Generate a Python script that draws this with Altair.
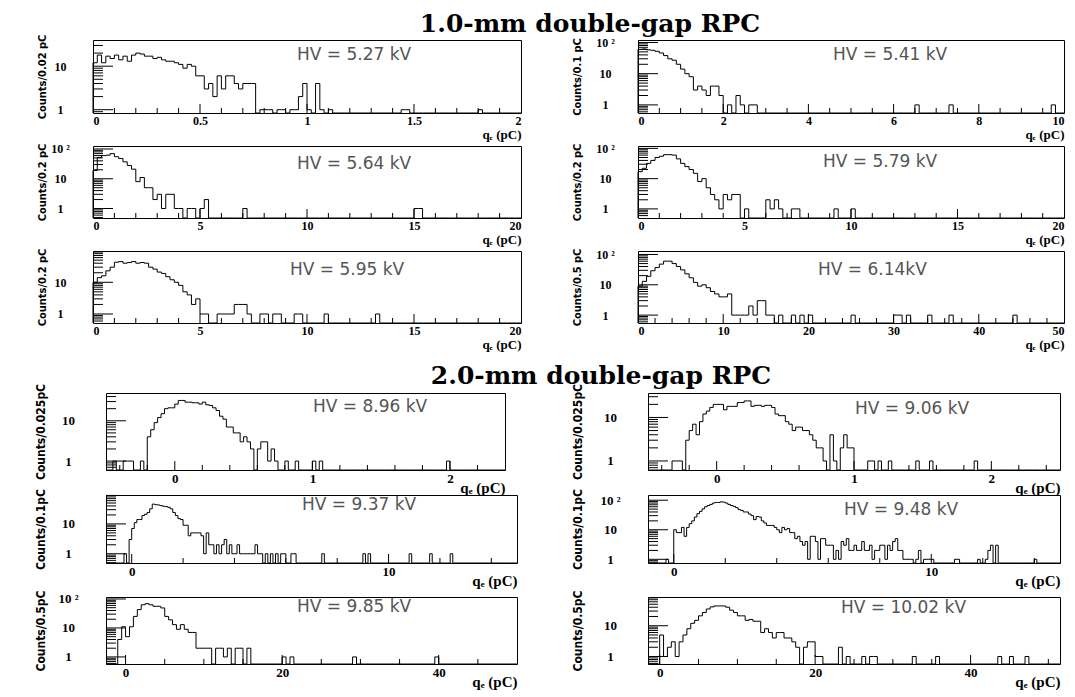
import math
import altair as alt
import pandas as pd

# ---------------------------------------------------------------- data
HV_LABELS = ["HV = 5.27 kV", "HV = 5.41 kV", "HV = 5.64 kV", "HV = 5.79 kV",
             "HV = 5.95 kV", "HV = 6.14kV", "HV = 8.96 kV", "HV = 9.06 kV",
             "HV = 9.37 kV", "HV = 9.48 kV", "HV = 9.85 kV", "HV = 10.02 kV"]
Y_TITLES = ["Counts/0.02 pC", "Counts/0.1 pC", "Counts/0.2 pC", "Counts/0.2 pC",
            "Counts/0.2 pC", "Counts/0.5 pC", "Counts/0.025pC", "Counts/0.025pC",
            "Counts/0.1pC", "Counts/0.1pC", "Counts/0.5pC", "Counts/0.5pC"]
GROUP_TITLES = ["1.0-mm double-gap RPC", "2.0-mm double-gap RPC"]
X_TITLE = "q\u2091 (pC)"

X_LO = [0, 0, 0, 0, 0, 0, -0.5, -0.5, -1, -1, -2.5, -1.5]
X_HI = [2, 10, 20, 20, 20, 50, 2.4, 2.5, 15, 15, 50, 51.5]
BIN_W = [0.02, 0.1, 0.2, 0.2, 0.2, 0.5, 0.025, 0.025, 0.1, 0.1, 0.5, 0.5]
X_LABELS = [[0, 0.5, 1, 1.5, 2], [0, 2, 4, 6, 8, 10], [0, 5, 10, 15, 20],
            [0, 5, 10, 15, 20], [0, 5, 10, 15, 20], [0, 10, 20, 30, 40, 50],
            [0, 1, 2], [0, 1, 2], [0, 10], [0, 10], [0, 20, 40], [0, 20, 40]]
X_MINOR = [0.1, 0.5, 1, 1, 1, 2, 0.2, 0.2, 2, 2, 5, 5]
X_MAJOR = [0.5, 2, 5, 5, 5, 10, 1, 1, 10, 10, 20, 20]
Y_DOMAIN = [[0.84, 40], [0.55, 120], [0.48, 126], [0.5, 120], [0.52, 97], [0.55, 130],
            [0.6, 49], [0.62, 36.5], [0.49, 93], [0.75, 150], [0.57, 117], [0.57, 86]]

# bin contents (leading bins as lists, isolated far bins as {bin index: count})
P1_BODY = [12, 18, 12, 17, 15, 18, 14, 17, 13, 18,
           20, 19, 17, 17, 15, 16, 14, 13, 13, 12,
           11, 9, 11, 10, 6, 6, 3, 4, 2, 6,
           3, 6, 6, 4, 3, 4, 4, 4, 0, 1,
           1, 1, 0, 1, 1, 0, 1, 1, 2, 4,
           1, 0, 4, 1, 0, 1]
P1_SPARSE = {72: 1, 73: 1, 90: 1}

P2_BODY = [60, 62, 58, 56, 52, 46, 38, 30, 27, 20,
           14, 10, 8, 3, 4, 3, 2, 4, 4, 2,
           0, 1, 0, 2, 1, 0, 1, 1]
P2_SPARSE = {65: 1, 73: 1, 97: 1}

P3_BODY = [19, 52, 60, 62, 70, 55, 48, 37, 28, 21,
           8, 11, 5, 5, 2, 3, 1, 3, 3, 1,
           1, 0, 1, 1, 0, 1, 2]
P3_SPARSE = {35: 1, 75: 1, 76: 1}

P4_BODY = [17, 22, 32, 40, 50, 55, 62, 62, 60, 45,
           32, 25, 20, 15, 8, 10, 5, 3, 2, 1,
           3, 2, 3, 3, 0, 1, 0, 0, 0, 0,
           2, 1, 2, 1, 0, 0, 1, 1]
P4_SPARSE = {46: 1, 50: 1}

P5_BODY = [10, 14, 16, 23, 30, 43, 45, 40, 42, 45,
           40, 42, 40, 30, 26, 21, 19, 15, 12, 10,
           8, 5, 4, 2, 3, 1, 1, 0, 0, 1,
           1, 1, 1, 2, 2, 2, 1]
P5_SPARSE = {39: 1, 40: 1, 42: 1, 43: 1, 47: 1, 48: 1, 54: 1, 66: 1}

P6_BODY = [9, 13, 19, 29, 37, 48, 60, 60, 50, 40,
           31, 23, 17, 12, 9, 10, 8, 6, 5, 4,
           4, 5, 1, 1, 1, 1, 2, 1, 3, 3,
           1, 1]
P6_SPARSE = {33: 1, 36: 1, 38: 1, 40: 1, 50: 1, 60: 1, 61: 1, 63: 1, 68: 1, 73: 1, 88: 1}

P7_BODY = [0, 0, 1, 0, 0, 1, 1, 1, 0, 0,
           1, 0, 4, 6, 9, 12, 15, 20, 21, 21,
           26, 32, 32, 29, 29, 28, 28, 26, 29, 25,
           24, 21, 18, 13, 11, 7, 7, 5, 5, 3,
           4, 3, 2, 0, 2, 3, 3, 1, 2, 1]
P7_SPARSE = {52: 1, 55: 1, 60: 1, 62: 1, 99: 1}

P8_BODY = [0, 0, 0, 0, 0, 0, 0, 1, 1, 1,
           0, 3, 5, 7, 4, 8, 12, 14, 17, 20,
           20, 20, 15, 18, 18, 18, 22, 22, 24, 24,
           18, 19, 19, 18, 19, 19, 17, 12, 11, 11,
           8, 7, 5, 6, 6, 5, 5, 4, 3, 2,
           2, 1, 0, 4, 1, 0, 2, 4, 2, 2]
P8_SPARSE = {64: 1, 65: 1, 67: 1, 70: 1, 78: 1, 82: 1, 95: 1}

P9_BODY = [0, 0, 0, 0, 0, 0, 0, 1, 0, 3,
           7, 11, 14, 14, 19, 21, 24, 32, 46, 44,
           43, 41, 39, 38, 36, 32, 24, 19, 15, 14,
           9, 9, 4, 5, 5, 5, 5, 4, 1, 5,
           2, 2, 1, 2, 1, 2, 3, 1, 2, 1,
           1, 2, 1, 1, 1, 1, 1, 1, 2, 1,
           1, 0, 1, 0, 1, 0, 1, 0, 1, 1,
           0, 0, 1, 1]
P9_SPARSE = {84: 1, 100: 1, 102: 1, 118: 1, 126: 1, 134: 1}

P10_BODY = [0, 0, 0, 0, 0, 0, 0, 1, 0, 0,
            10, 8, 8, 12, 6, 12, 16, 20, 27, 35,
            42, 51, 60, 66, 72, 80, 84, 84, 88, 86,
            80, 72, 66, 62, 56, 48, 45, 40, 40, 34,
            30, 22, 28, 27, 20, 17, 14, 14, 14, 12,
            10, 8, 12, 10, 11, 8, 8, 5, 6, 4,
            3, 4, 1, 6, 6, 4, 1, 5, 5, 3,
            3, 3, 1, 2, 1, 4, 3, 5, 2, 2,
            3, 2, 2, 4, 2, 2, 3, 1, 2, 2,
            3, 3, 1, 3, 2, 4, 5, 2, 2, 1,
            1, 1, 1, 0, 1, 2, 0, 1, 1, 1,
            1]
P10_SPARSE = {119: 1, 120: 1, 128: 1, 131: 1, 132: 2, 133: 3, 135: 3, 150: 1}

P11_BODY = [0, 0, 0, 4, 11, 5, 11, 25, 43, 63,
            69, 63, 56, 56, 49, 25, 19, 13, 9, 13,
            9, 7, 7, 2, 2, 2, 2, 0, 2, 2,
            1, 2, 0, 2, 2, 0, 2, 0]
P11_SPARSE = {45: 1, 47: 1, 63: 1, 84: 1}

P12_BODY = [0, 0, 0, 5, 1, 2, 3, 1, 3, 5,
            8, 12, 15, 21, 27, 35, 41, 44, 44, 44,
            40, 32, 27, 21, 21, 15, 16, 14, 14, 6,
            8, 6, 4, 6, 6, 4, 4, 3, 2, 0,
            2, 3, 3, 1, 1]
P12_SPARSE = {49: 2, 51: 1, 55: 1, 57: 1, 58: 1, 68: 1, 74: 1, 90: 1, 93: 1, 97: 1}

BODIES = [P1_BODY, P2_BODY, P3_BODY, P4_BODY, P5_BODY, P6_BODY,
          P7_BODY, P8_BODY, P9_BODY, P10_BODY, P11_BODY, P12_BODY]
SPARSES = [P1_SPARSE, P2_SPARSE, P3_SPARSE, P4_SPARSE, P5_SPARSE, P6_SPARSE,
           P7_SPARSE, P8_SPARSE, P9_SPARSE, P10_SPARSE, P11_SPARSE, P12_SPARSE]

# ---------------------------------------------------------------- style
SERIF = "Liberation Serif, Times New Roman, serif"
NARROW = "Liberation Sans Narrow, DejaVu Sans Condensed, Arial Narrow, sans-serif"
HVFONT = "DejaVu Sans, Verdana, sans-serif"
TITLEFONT = "DejaVu Serif, Liberation Serif, serif"

STYLE_TOP = dict(lab=12, ylp=33, xt=13, xty=21, hvs=17, yts=11, flush=True)
STYLE_BOT = dict(lab=13, ylp=38, xt=15, xty=17, hvs=17, yts=12, flush=False)
YTITLE_X = [-51, -61, -51, -61, -51, -61, -66, -71, -66, -71, -66, -71]
HV_POS = [(204, 15), (195, 15), (204, 18), (185, 16), (197, 19), (180, 19),
          (207, 14), (207, 16), (196, 10), (196, 15), (191, 10), (193, 11)]


def full_counts(body, sparse, n):
    c = list(body) + [0] * (n - len(body))
    for k, v in sparse.items():
        c[k] = v
    return c


def x_ticks(lo, hi, step, major):
    out = []
    k0 = math.ceil(lo / step - 1e-9)
    k1 = math.floor(hi / step + 1e-9)
    for k in range(k0, k1 + 1):
        v = round(k * step, 6)
        if v <= lo + 1e-9 or v >= hi - 1e-9:
            continue
        out.append({"v": v, "major": abs(v / major - round(v / major)) < 1e-6})
    return pd.DataFrame(out)


def y_ticks(ymin, ymax):
    out = []
    for k in range(-1, 3):
        for m in range(1, 10):
            v = m * 10 ** k
            if ymin * 1.0001 < v < ymax * 0.9999:
                out.append({"v": v, "major": m == 1})
    return pd.DataFrame(out)


def panel(i, width, height, st, group_title=None, gt_pos=None):
    lo, hi, w = X_LO[i], X_HI[i], BIN_W[i]
    n = int(round((hi - lo) / w))
    counts = full_counts(BODIES[i], SPARSES[i], n)
    ymin, ymax = Y_DOMAIN[i]
    rows = [{"x": lo, "y": ymin, "o": 0}]
    for k, c in enumerate(counts):
        rows.append({"x": lo + k * w, "y": c if c > 0 else ymin, "o": k + 1})
    rows.append({"x": lo + n * w, "y": counts[-1] if counts[-1] > 0 else ymin, "o": n + 1})
    rows.append({"x": lo + n * w, "y": ymin, "o": n + 2})
    df = pd.DataFrame(rows)

    xs = alt.Scale(domain=[lo, hi], nice=False, zero=False)
    ys = alt.Scale(type="log", domain=[ymin, ymax], nice=False, clamp=True)
    yvals = [v for v in [1, 10, 100] if ymin <= v <= ymax]

    xaxis = alt.Axis(
        values=X_LABELS[i], labelExpr="'' + datum.value", ticks=False, domain=False, grid=False,
        labelFont=SERIF, labelFontWeight="bold", labelFontSize=st["lab"], labelColor="black",
        labelPadding=2, labelFlush=st["flush"], labelOverlap=False,
        title=X_TITLE, titleFont=SERIF, titleFontWeight="bold", titleFontSize=st["xt"],
        titleColor="black", titleX=width, titleY=st["xty"], titleAlign="right",
        titleBaseline="middle")
    yaxis = alt.Axis(
        values=yvals, ticks=False, domain=False, grid=False,
        labelExpr="datum.value >= 100 ? '10 \u00b2' : (datum.value >= 10 ? '10' : '1')",
        labelFont=SERIF, labelFontWeight="bold", labelFontSize=st["lab"], labelColor="black",
        labelAlign="center", labelBaseline="middle", labelPadding=st["ylp"],
        labelOverlap=False, labelFlush=False,
        title=Y_TITLES[i], titleFont=NARROW, titleFontWeight="bold", titleFontSize=st["yts"],
        titleColor="black", titleX=YTITLE_X[i], titleY=height / 2, titleAngle=-90,
        titleAlign="center", titleBaseline="middle")

    hist = alt.Chart(df).mark_line(interpolate="step-after", color="black", strokeWidth=1).encode(
        x=alt.X("x:Q", scale=xs, axis=xaxis),
        y=alt.Y("y:Q", scale=ys, axis=yaxis),
        order=alt.Order("o:Q"),
    )

    ydf = y_ticks(ymin, ymax)
    xdf = x_ticks(lo, hi, X_MINOR[i], X_MAJOR[i])
    layers = [hist]
    for major, length in [(False, 10), (True, 20)]:
        sub = ydf[ydf["major"] == major]
        if len(sub):
            layers.append(alt.Chart(sub).mark_rule(color="black", strokeWidth=1).encode(
                y=alt.Y("v:Q", scale=ys, axis=yaxis), x=alt.value(0), x2=alt.value(length)))
    for major, length in [(False, 5), (True, 9)]:
        sub = xdf[xdf["major"] == major]
        if len(sub):
            layers.append(alt.Chart(sub).mark_rule(color="black", strokeWidth=1).encode(
                x=alt.X("v:Q", scale=xs, axis=xaxis), y=alt.value(height),
                y2=alt.value(height - length)))
    hx, hy = HV_POS[i]
    layers.append(alt.Chart(pd.DataFrame({"t": [HV_LABELS[i]]})).mark_text(
        align="left", baseline="middle", font=HVFONT, fontSize=st["hvs"], color="#555555"
    ).encode(x=alt.value(hx), y=alt.value(hy), text="t:N"))
    if group_title is not None:
        gx, gy = gt_pos
        layers.append(alt.Chart(pd.DataFrame({"t": [group_title]})).mark_text(
            align="center", baseline="middle", font=TITLEFONT, fontWeight="bold",
            fontSize=25, color="black"
        ).encode(x=alt.value(gx), y=alt.value(gy), text="t:N"))
    return alt.layer(*layers).properties(
        width=width, height=height,
        view=alt.ViewBackground(stroke="black", strokeWidth=1))


def spacer(width, height):
    return alt.Chart(pd.DataFrame({"a": [0]})).mark_point(opacity=0, size=1).encode(
        x=alt.value(0), y=alt.value(0)
    ).properties(width=width, height=height, view=alt.ViewBackground(stroke=None))


# ---------------------------------------------------------------- layout
top_heights = [73, 72, 72]
top_cells = []
for r in range(3):
    h = top_heights[r]
    top_cells.append(panel(2 * r, 428, h, STYLE_TOP,
                           GROUP_TITLES[0] if r == 0 else None, (497, -16)))
    top_cells.append(panel(2 * r + 1, 426, h, STYLE_TOP))
top_grid = alt.concat(*top_cells, columns=2, bounds="flush",
                      spacing=alt.RowColnumber(row=33, column=117))

bot_heights = [77, 68, 67]
bot_lw = [399, 411, 411]
bot_gaps = [25, 34]
bot_cells = []
for r in range(3):
    h = bot_heights[r]
    bot_cells += [spacer(13, h),
                  panel(6 + 2 * r, bot_lw[r], h, STYLE_BOT,
                        GROUP_TITLES[1] if r == 0 else None, (495, -17)),
                  spacer(131, h),
                  panel(7 + 2 * r, 412, h, STYLE_BOT)]
    if r < 2:
        g = bot_gaps[r]
        bot_cells += [spacer(13, g), spacer(20, g), spacer(131, g), spacer(20, g)]
bot_grid = alt.concat(*bot_cells, columns=4, bounds="flush", spacing=0)

chart = alt.vconcat(top_grid, bot_grid, spacing=11).properties(
    padding={"left": 25, "top": 3, "right": 0, "bottom": 0},
    background="white",
)

chart.save("out.html", embed_options={"renderer": "svg", "actions": False})
